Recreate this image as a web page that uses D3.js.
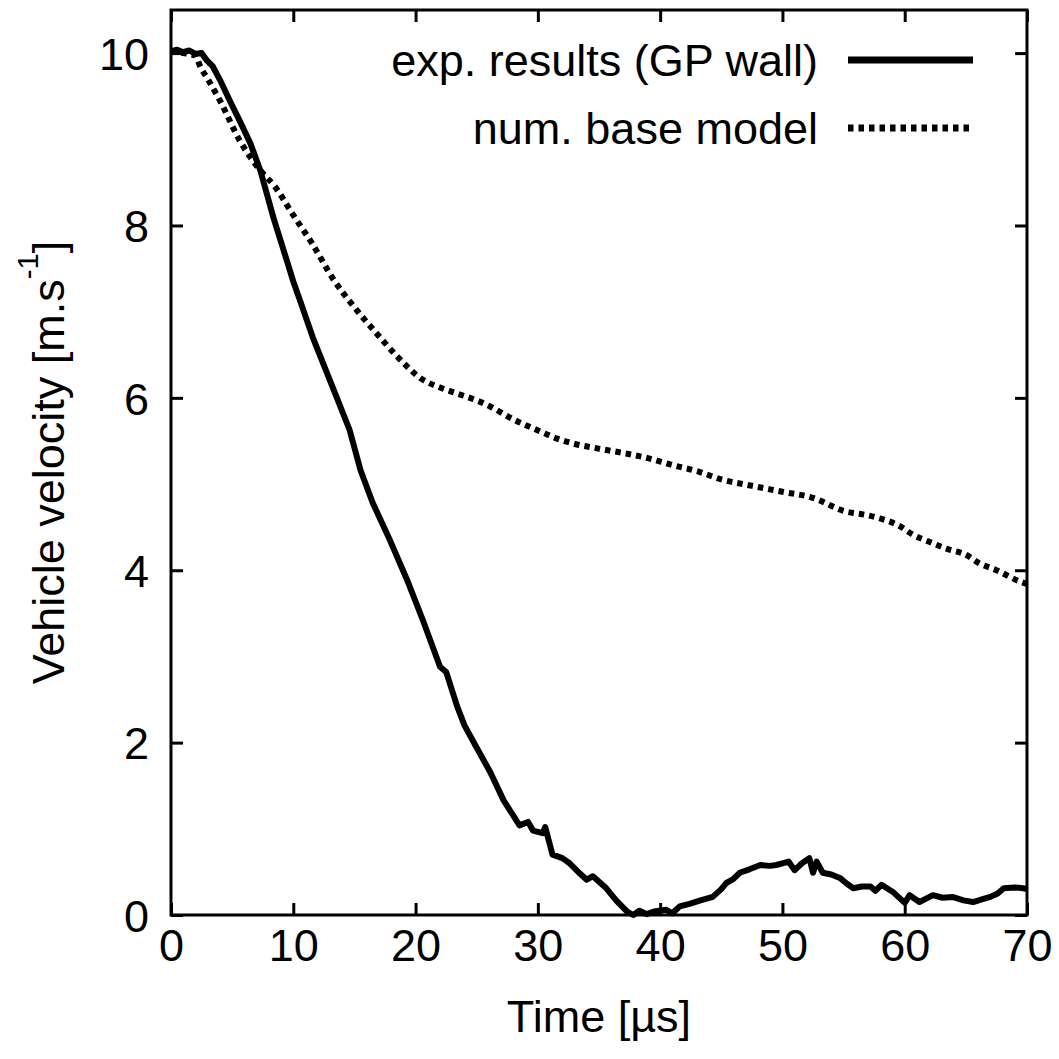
<!DOCTYPE html>
<html>
<head>
<meta charset="utf-8">
<script src="https://cdn.jsdelivr.net/npm/d3@7"></script>
<style>
html,body{margin:0;padding:0;background:#fff;}
svg{display:block;font-family:"Liberation Sans",Arial,Helvetica,sans-serif;}
</style>
</head>
<body>
<svg id="chart" width="1059" height="1059"></svg>
<script>
// ---- data ----
const expTime = [0,0.5,1,1.5,2,2.5,2.9,3.4,4.0,4.8,5.6,6.5,7.3,8.4,9.5,10.0,10.5,11.6,13.2,14.6,15.5,16.5,17.9,19.3,20.6,22.0,22.5,23.4,24.0,25.0,26.1,27.2,28.5,29.2,29.6,30.4,30.6,31.2,32.0,32.6,33.3,34.0,34.5,35.6,36.4,37.3,37.8,38.3,38.9,39.5,40.5,41.0,41.6,42.4,43.3,44.3,45.0,45.4,46.0,46.5,47.3,48.2,49.0,49.5,50.0,50.5,51.0,51.6,52.2,52.5,52.8,53.3,54.0,54.7,55.3,55.8,56.5,57.2,57.6,58.1,59.1,60.0,60.4,61.2,62.3,63.1,63.9,64.8,65.6,66.3,67.0,67.6,68.1,69.0,69.7,70.0];
const expVel  = [10.02,10.04,10.01,10.03,9.99,10.0,9.92,9.85,9.69,9.45,9.22,8.95,8.64,8.08,7.58,7.35,7.15,6.7,6.13,5.63,5.16,4.78,4.35,3.89,3.42,2.88,2.82,2.42,2.2,1.94,1.66,1.33,1.04,1.08,0.98,0.95,1.02,0.70,0.66,0.6,0.5,0.41,0.45,0.31,0.17,0.04,0.0,0.05,0.01,0.04,0.06,0.02,0.1,0.13,0.17,0.21,0.3,0.37,0.42,0.49,0.53,0.58,0.57,0.58,0.6,0.62,0.52,0.6,0.66,0.49,0.62,0.49,0.47,0.43,0.36,0.31,0.33,0.33,0.28,0.35,0.26,0.14,0.23,0.15,0.23,0.2,0.21,0.17,0.15,0.18,0.21,0.25,0.31,0.32,0.31,0.3];

const numTime = [0,1,2,2.4,3,4,5.6,7.3,8.5,10,11.5,13.3,15,16.8,18.5,20.6,22,23.4,25,26.1,28,30.2,31.5,32.9,35,37,39,41,43,45.1,47.5,50,52.5,55.2,56.5,58,59.5,60.7,62,63.4,65,66.1,67.5,69.4,70];
const numVel  = [10.02,10.0,9.97,9.84,9.7,9.45,8.99,8.64,8.45,8.12,7.8,7.37,7.05,6.75,6.48,6.21,6.12,6.05,5.97,5.9,5.75,5.61,5.53,5.47,5.41,5.36,5.3,5.22,5.15,5.05,4.98,4.91,4.84,4.68,4.65,4.6,4.52,4.41,4.33,4.25,4.18,4.08,4.0,3.87,3.84];

const xTicks = [0,10,20,30,40,50,60,70];
const yTicks = [0,2,4,6,8,10];
const seriesNames = ["exp. results (GP wall)", "num. base model"];
const xTitle = "Time [\u00b5s]";
const yTitle = "Vehicle velocity [m.s";
const yTitleSup = "-1";

// ---- layout ----
const L = 171, R = 1027, T = 10, B = 915;
const svg = d3.select("#chart");
const x = d3.scaleLinear().domain([0,70]).range([L,R]);
const y = d3.scaleLinear().domain([0,10.5]).range([B,T]);
const fs = 45;
const dotDash = "5.5,5";

// axes (ticks inward on all sides)
const gB = svg.append("g").attr("transform",`translate(0,${B})`)
  .call(d3.axisBottom(x).tickValues(xTicks).tickSizeInner(-12).tickSizeOuter(0).tickPadding(14));
const gT = svg.append("g").attr("transform",`translate(0,${T})`)
  .call(d3.axisTop(x).tickValues(xTicks).tickSizeInner(-12).tickSizeOuter(0).tickFormat(""));
const gL = svg.append("g").attr("transform",`translate(${L},0)`)
  .call(d3.axisLeft(y).tickValues(yTicks).tickSizeInner(-12).tickSizeOuter(0).tickPadding(22));
const gR = svg.append("g").attr("transform",`translate(${R},0)`)
  .call(d3.axisRight(y).tickValues(yTicks).tickSizeInner(-12).tickSizeOuter(0).tickFormat(""));
[gB,gT,gL,gR].forEach(g=>{
  g.select(".domain").remove();
  g.selectAll(".tick line").attr("stroke","#000").attr("stroke-width",3);
  g.selectAll("text").attr("font-size",fs).attr("fill","#000").attr("font-family","Liberation Sans, Arial, sans-serif");
});
gL.selectAll(".tick text").attr("dy","0.36em");

// frame
svg.append("rect").attr("x",L).attr("y",T).attr("width",R-L).attr("height",B-T)
  .attr("fill","none").attr("stroke","#000").attr("stroke-width",3);

// lines
const numData = numTime.map((t,i)=>[t,numVel[i]]);
const expData = expTime.map((t,i)=>[t,expVel[i]]);

svg.append("path").datum(numData)
  .attr("d",d3.line().x(d=>x(d[0])).y(d=>y(d[1])).curve(d3.curveMonotoneX))
  .attr("fill","none").attr("stroke","#000").attr("stroke-width",6)
  .attr("stroke-dasharray",dotDash);
svg.append("path").datum(expData)
  .attr("d",d3.line().x(d=>x(d[0])).y(d=>y(d[1])))
  .attr("fill","none").attr("stroke","#000").attr("stroke-width",6)
  .attr("stroke-linejoin","round");

// legend
const leg = [{name:seriesNames[0],y:60,dash:null},{name:seriesNames[1],y:128,dash:dotDash}];
leg.forEach(d=>{
  svg.append("text").attr("x",818).attr("y",d.y).attr("dy","0.35em")
    .attr("text-anchor","end").attr("font-size",fs).attr("fill","#000").text(d.name);
  svg.append("line").attr("x1",848).attr("x2",973).attr("y1",d.y).attr("y2",d.y)
    .attr("stroke","#000").attr("stroke-width",7).attr("stroke-dasharray",d.dash);
});

// axis titles
svg.append("text").attr("x",(L+R)/2).attr("y",1032).attr("text-anchor","middle")
  .attr("font-size",fs).attr("fill","#000").text(xTitle);
const yt = svg.append("text").attr("transform",`translate(64,${(T+B)/2}) rotate(-90)`)
  .attr("text-anchor","middle").attr("font-size",fs).attr("fill","#000");
yt.append("tspan").text(yTitle);
yt.append("tspan").attr("font-size",fs*0.65).attr("dy","-0.9em").text(yTitleSup);
yt.append("tspan").attr("dy","0.58em").text("]");
</script>
</body>
</html>
